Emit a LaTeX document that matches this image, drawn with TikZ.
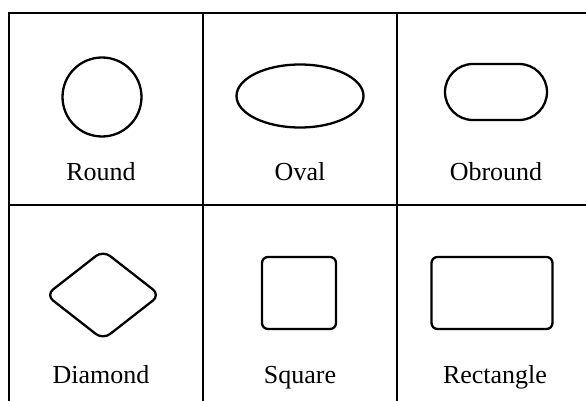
\documentclass[tikz,border=0pt]{standalone}
\usepackage{fontspec}
\setmainfont{Liberation Serif}
\usetikzlibrary{shapes.geometric,shapes.misc}

\begin{document}
\begin{tikzpicture}[x=1pt,y=-1pt,
  outline/.style={draw, line width=2.3pt, inner sep=0pt},
  caption/.style={anchor=base, font=\fontsize{26}{30}\selectfont},
  rule/.style={line width=2.8pt}]
\useasboundingbox (0,0) rectangle (586,401);

\draw[rule] (9,401) -- (9,13) -- (586,13);
\draw[rule] (9,205) -- (586,205);
\draw[rule] (203,13) -- (203,401);
\draw[rule] (397,13) -- (397,401);

\node[outline, circle, minimum size=79pt] (round) at (102,97) {};
\node[outline, ellipse, minimum width=127pt, minimum height=63pt] (oval) at (300,96) {};
\node[outline, rounded rectangle, minimum width=102pt, minimum height=56pt] (obround) at (496,92) {};

\node[outline, diamond, rounded corners=9pt, minimum width=115pt, minimum height=90pt] (diamond) at (103,295) {};
\node[outline, rectangle, rounded corners=6pt, minimum width=74pt, minimum height=72pt] (square) at (299,293) {};
\node[outline, rectangle, rounded corners=6pt, minimum width=121pt, minimum height=72pt] (rectangle) at (492,293) {};

\node[caption] (roundtext) at (101,180) {Round};
\node[caption] (ovaltext) at (300,180) {Oval};
\node[caption] (obroundtext) at (496,180) {Obround};
\node[caption] (diamondtext) at (101,383) {Diamond};
\node[caption] (squaretext) at (300,383) {Square};
\node[caption] (rectangletext) at (495,383) {Rectangle};
\end{tikzpicture}
\end{document}
